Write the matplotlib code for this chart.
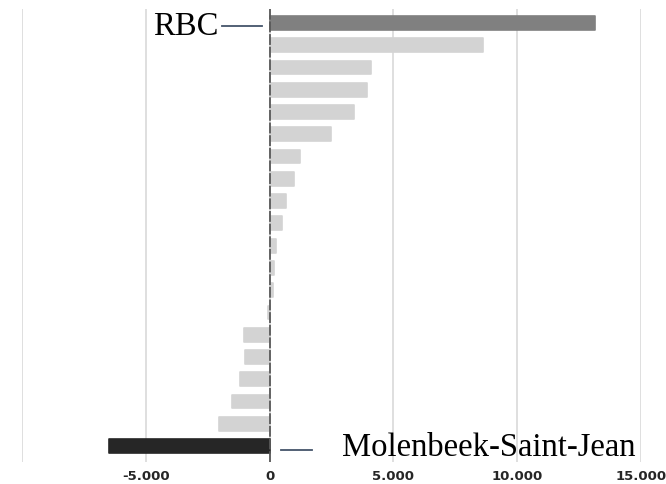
import matplotlib.pyplot as plt
import numpy as np

# net values per commune, top to bottom (RBC first, Molenbeek last)
values = [13150, 8600, 4090, 3930, 3390, 2480, 1210, 1000, 680, 520,
          250, 190, 150, -50, -1020, -1000, -1180, -1500, -2040, -6500]
colors = ['#808080'] + ['#d3d3d3'] * 18 + ['#262626']
ticks = [-10000, -5000, 0, 5000, 10000, 15000]
tick_labels = ['', '-5.000', '0', '5.000', '10.000', '15.000']

fig = plt.figure(figsize=(6.66, 4.85), dpi=100)
ax = fig.add_axes([22/666, 22/485, 619/666, 453/485])

y = np.arange(len(values))
ax.barh(y, values, height=0.62, color=colors, edgecolor=colors,
        linewidth=1.2, joinstyle='round', zorder=2)

ax.set_xlim(-10000, 15000)
ax.set_ylim(len(values) - 0.28, -0.63)
ax.set_xticks(ticks)
ax.set_xticklabels(tick_labels, fontsize=9.5, fontweight='bold',
                   family='DejaVu Sans', color='#262626')
ax.set_yticks([])
ax.tick_params(axis='x', length=0, pad=5)
ax.grid(axis='x', color='#d9d9d9', linewidth=1.2, zorder=0)
for s in ax.spines.values():
    s.set_visible(False)

ax.axvline(0, color='#595959', linewidth=1.3, linestyle=(0, (6, 1)), zorder=3)

# labels
ax.plot([-1920, -310], [0.15, 0.15], color='#44546a', linewidth=1.3, clip_on=False)
ax.text(-2080, 0.1, 'RBC', ha='right', va='center', fontsize=23.5,
        family='Liberation Serif', color='black')
ax.plot([460, 1710], [19.2, 19.2], color='#44546a', linewidth=1.3, clip_on=False)
ax.text(2920, 19.05, 'Molenbeek-Saint-Jean', ha='left', va='center', fontsize=23.5,
        family='Liberation Serif', color='black', clip_on=False)

fig.savefig('out.png', dpi=100)
